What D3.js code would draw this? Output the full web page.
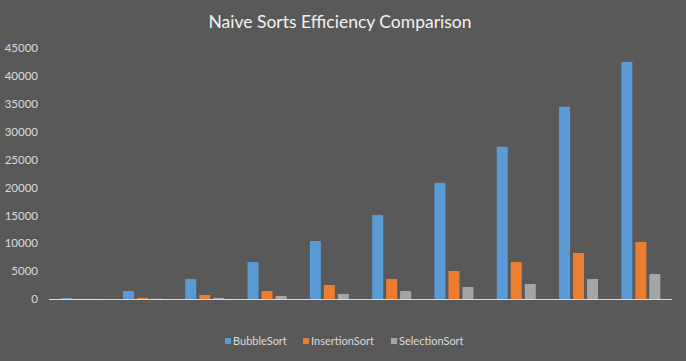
<!DOCTYPE html>
<html><head><meta charset="utf-8">
<script src="https://cdn.jsdelivr.net/npm/d3@7"></script>
<style>body{margin:0;background:#595959;}svg{display:block;}</style>
</head><body>
<script>
const categories = ["1","2","3","4","5","6","7","8","9","10"];
const seriesNames = ["BubbleSort","InsertionSort","SelectionSort"];
const bubbleSort = [180, 1430, 3590, 6630, 10400, 15060, 20850, 27300, 34450, 42500];
const insertionSort = [20, 220, 720, 1430, 2510, 3590, 5020, 6630, 8250, 10230];
const selectionSort = [10, 60, 200, 540, 900, 1430, 2150, 2690, 3590, 4480];
const yTicks = [0,5000,10000,15000,20000,25000,30000,35000,40000,45000];
const colors = ["#5B9BD5","#ED7D31","#A5A5A5"];
const values = [bubbleSort, insertionSort, selectionSort];

const W = 686, H = 361;
const font = "Lato, 'Open Sans', sans-serif";
const svg = d3.select("body").append("svg").attr("width", W).attr("height", H);
svg.append("rect").attr("width", W).attr("height", H).attr("fill", "#595959");

svg.append("text").attr("x", 340).attr("y", 28).attr("text-anchor", "middle")
  .attr("fill", "#F2F2F2").attr("font-family", font).attr("font-size", 17.5)
  .text("Naive Sorts Efficiency Comparison");

const x0 = d3.scaleBand().domain(categories).range([49, 672]);
const x1 = d3.scaleBand().domain(seriesNames)
  .range([(x0.bandwidth() - 39) / 2, (x0.bandwidth() + 39) / 2]).paddingInner(0.214);
const y = d3.scaleLinear().domain([0, 45000]).range([299, 48]);

const yAxis = d3.axisLeft(y).tickValues(yTicks).tickSize(0).tickPadding(0).tickFormat(d3.format("d"));
const gy = svg.append("g").attr("transform", "translate(38,0)").call(yAxis);
gy.select(".domain").remove();
gy.selectAll("text").attr("fill", "#D9D9D9").attr("font-family", font).attr("font-size", 11.5);

const groups = svg.append("g").selectAll("g").data(categories).join("g")
  .attr("transform", d => `translate(${x0(d)},0)`);
groups.selectAll("rect").data((d, i) => seriesNames.map((s, j) => ({s, v: values[j][i], c: colors[j]})))
  .join("rect")
  .attr("x", d => x1(d.s)).attr("width", x1.bandwidth())
  .attr("y", d => y(d.v)).attr("height", d => y(0) - y(d.v)).attr("fill", d => d.c);

svg.append("line").attr("x1", 49).attr("x2", 672).attr("y1", y(0) + 0.5).attr("y2", y(0) + 0.5)
  .attr("stroke", "#D9D9D9").attr("stroke-width", 1);

const legendX = [225, 303, 391];
const lg = svg.append("g").selectAll("g").data(seriesNames).join("g")
  .attr("transform", (d, i) => `translate(${legendX[i]},338)`);
lg.append("rect").attr("width", 6).attr("height", 6).attr("fill", (d, i) => colors[i]);
lg.append("text").attr("x", 8).attr("y", 3).attr("dy", "0.35em")
  .attr("fill", "#D9D9D9").attr("font-family", font).attr("font-size", 11).text(d => d);
</script>
</body></html>
